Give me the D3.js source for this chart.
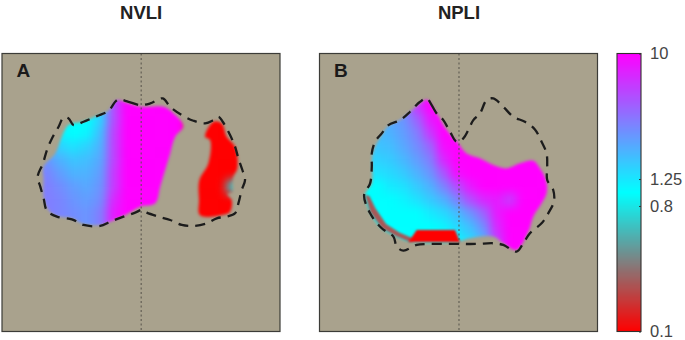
<!DOCTYPE html>
<html>
<head>
<meta charset="utf-8">
<script src="https://cdn.jsdelivr.net/npm/d3@7"></script>
<style>
  html, body { margin: 0; padding: 0; background: #fff; }
  text { font-family: "Liberation Sans", Arial, sans-serif; }
</style>
</head>
<body>
<svg id="chart" width="685" height="340"></svg>
<script>
// All positions below are in map units: 835 units across each square panel
const titles = ['NVLI', 'NPLI'];
const letters = ['A', 'B'];
const colorTicks = [10, 1.25, 0.8, 0.1];

// Panel A ratio field
const colsA = [100, 140, 180, 220, 260, 300, 340, 380, 420, 460, 500, 540, 580, 620, 660, 700, 740];
const rowsA = [160, 200, 240, 280, 320, 360, 400, 440, 480, 520, 560];
const valuesA = [
  [3, 2, 1.2, 1, 1, 1.5, 5, 10, 10, 10, 10, 10, 0.1, 0.1, 0.1, 0.1, 0.1],
  [3, 2, 1.2, 1, 1, 1.5, 5, 10, 10, 10, 10, 10, 0.1, 0.1, 0.1, 0.1, 0.1],
  [3, 2, 1.2, 1, 1, 1.5, 5, 10, 10, 10, 10, 10, 0.1, 0.1, 0.1, 0.1, 0.1],
  [2.5, 1.8, 1.1, 1, 1.1, 1.8, 5.5, 10, 10, 10, 10, 10, 0.1, 0.1, 0.1, 0.1, 0.1],
  [2.5, 2, 1.5, 1.3, 1.5, 2, 5.5, 10, 10, 10, 10, 10, 0.1, 0.1, 0.1, 0.1, 0.1],
  [3, 2.6, 2, 1.7, 1.8, 2.2, 5.5, 10, 10, 10, 10, 10, 0.1, 0.1, 0.1, 0.1, 0.1],
  [3.2, 3, 2.4, 2, 2, 2.4, 6, 10, 10, 10, 10, 10, 0.1, 0.1, 0.1, 0.1, 0.1],
  [3.2, 3.2, 2.8, 2.4, 2.2, 2.6, 6, 10, 10, 10, 10, 10, 0.1, 0.1, 0.1, 0.7, 0.7],
  [3.2, 3.2, 3, 2.6, 2.4, 2.8, 7, 10, 10, 10, 10, 10, 0.1, 0.1, 0.1, 0.1, 0.1],
  [3.2, 3.2, 3, 2.8, 2.6, 3.2, 8, 10, 10, 10, 10, 10, 0.1, 0.1, 0.1, 0.1, 0.1],
  [3.2, 3.2, 3, 2.8, 2.6, 3.2, 8, 10, 10, 10, 10, 10, 0.1, 0.1, 0.1, 0.1, 0.1]
];

// Panel B ratio field
const colsB = [160, 200, 240, 280, 320, 360, 400, 440, 480, 520, 560, 600, 640, 680, 720];
const rowsB = [160, 200, 240, 280, 320, 360, 400, 440, 480, 520, 560, 600, 640];
const valuesB = [
  [2, 2, 2.5, 3, 6, 10, 10, 10, 10, 10, 10, 10, 10, 10, 10],
  [2, 2, 2.5, 3, 6, 10, 10, 10, 10, 10, 10, 10, 10, 10, 10],
  [2, 2, 2.2, 2.6, 4, 8, 10, 10, 10, 10, 10, 10, 10, 10, 10],
  [1.8, 1.8, 2, 2.4, 3.2, 6, 10, 10, 10, 10, 10, 10, 10, 10, 10],
  [1.6, 1.7, 1.8, 2.2, 2.8, 4, 9, 10, 10, 10, 10, 10, 10, 10, 10],
  [1.4, 1.5, 1.6, 1.9, 2.4, 3.2, 7, 10, 10, 10, 10, 10, 10, 10, 10],
  [1.2, 1.3, 1.4, 1.6, 2, 2.6, 4.5, 9, 10, 10, 10, 10, 10, 10, 10],
  [1, 1, 1.2, 1.3, 1.6, 2, 3, 5, 8, 10, 10, 10, 10, 10, 10],
  [1, 1, 1, 1.1, 1.3, 1.6, 2, 3, 5, 7, 8, 6, 10, 10, 10],
  [1, 1, 1, 1, 1, 1.2, 1.4, 1.8, 2.6, 4, 8, 10, 10, 10, 10],
  [1, 1, 1, 1, 1, 1, 1.1, 1.4, 1.8, 2.8, 7, 10, 10, 10, 10],
  [1, 1, 1, 1, 1, 1, 1, 1.1, 1.4, 2, 6, 10, 10, 10, 10],
  [1, 1, 1, 1, 1, 1, 1, 1.1, 1.4, 2, 6, 10, 10, 10, 10]
];

// Dashed tissue outlines
const outlineA = [[355,178],[385,185],[420,195],[450,190],[488,175],[510,200],[545,225],[580,242],[615,250],[640,240],[655,230],[668,245],[690,285],[705,320],[715,355],[727,390],[735,420],[725,450],[715,490],[705,520],[680,530],[650,535],[620,550],[580,558],[545,555],[510,540],[475,530],[440,518],[425,510],[405,518],[370,530],[330,545],[300,558],[250,555],[215,538],[170,530],[140,512],[130,475],[120,440],[112,410],[128,370],[140,330],[155,295],[175,260],[190,232],[205,235],[220,255],[250,245],[290,228],[325,212],[345,185]];
const outlineB = [[350,175],[365,195],[380,220],[400,240],[420,275],[440,305],[460,295],[475,270],[490,240],[510,220],[530,180],[550,175],[580,200],[610,230],[645,245],[675,268],[695,305],[710,340],[712,380],[712,420],[730,450],[732,485],[715,520],[695,550],[660,580],[640,610],[620,635],[580,615],[550,610],[500,612],[440,612],[350,612],[320,615],[280,632],[260,620],[250,590],[215,565],[180,520],[162,465],[180,430],[185,380],[185,340],[195,305],[215,280],[235,255],[270,240],[300,215],[330,185]];

// Areas of the field that hold data
const coveredA = [
  [[350,180],[385,190],[420,200],[490,200],[520,220],[550,258],[525,290],[510,340],[495,390],[480,440],[465,490],[420,500],[375,525],[330,545],[300,555],[250,552],[215,535],[170,528],[145,510],[130,470],[130,420],[130,380],[165,340],[185,290],[205,255],[250,245],[290,228],[325,212]],
  [[640,245],[665,250],[680,290],[705,320],[712,385],[700,410],[697,430],[697,455],[682,462],[695,480],[690,515],[670,524],[600,526],[597,480],[598,420],[625,370],[630,300],[615,290]]
];
const coveredB = [
  [[350,178],[380,220],[410,270],[445,310],[470,340],[510,355],[550,375],[590,385],[630,370],[670,362],[690,385],[708,420],[710,460],[695,490],[670,530],[655,575],[620,630],[580,610],[550,590],[480,595],[440,605],[300,605],[260,590],[215,565],[180,515],[165,465],[185,430],[188,340],[215,285],[235,258],[270,240],[300,215],[330,190]]
];

// Low-ratio patches along the lower edge of panel B
const lowPatchB = [[320,570],[435,570],[450,606],[295,606]];
const lowStripB = [[165,465],[180,515],[215,565],[260,590],[300,606],[315,598],[268,578],[228,552],[196,505],[178,468]];
const patchesB = [
  {points: lowStripB, value: 0.22},
  {points: lowPatchB, value: 0.1}
];

const panels = [
  {cols: colsA, rows: rowsA, values: valuesA, outline: outlineA, covered: coveredA, patches: [], left: 2, origin: 5, mid: 423},
  {cols: colsB, rows: rowsB, values: valuesB, outline: outlineB, covered: coveredB, patches: patchesB, left: 319.5, origin: 28, mid: 447}
];

const panelSize = 278;
const panelTop = 53.5;

const svg = d3.select('#chart');
const defs = svg.append('defs');

// Red to cyan to magenta on a log axis, same as the color bar
const colorScale = d3.scaleLog()
  .domain([0.1, 1, 10])
  .range(['#ff0000', '#00ffff', '#ff00ff'])
  .interpolate(d3.interpolateRgb);

function addBlur(id, dev) {
  defs.append('filter')
    .attr('id', id)
    .attr('filterUnits', 'userSpaceOnUse')
    .attr('x', 0).attr('y', 0).attr('width', 685).attr('height', 340)
    .attr('color-interpolation-filters', 'sRGB')
    .append('feGaussianBlur')
    .attr('stdDeviation', dev);
}
addBlur('field-blur', 5);
addBlur('edge-blur', 1.6);
addBlur('patch-blur', 1);
addBlur('soft', 0.45);

panels.forEach((p, i) => {
  const xScale = d3.scaleLinear().domain([p.origin, p.origin + 835]).range([p.left, p.left + panelSize]);
  const yScale = d3.scaleLinear().domain([40, 875]).range([panelTop, panelTop + panelSize]);
  const path = d3.line().x(d => xScale(d[0])).y(d => yScale(d[1])).curve(d3.curveCatmullRomClosed);
  const straightPath = d3.line().x(d => xScale(d[0])).y(d => yScale(d[1]));

  svg.append('rect')
    .attr('x', p.left).attr('y', panelTop)
    .attr('width', panelSize).attr('height', panelSize)
    .attr('fill', '#a9a28d');

  // Blurred edge of the covered area fades the field into the background
  const mask = defs.append('mask')
    .attr('id', `cover-${i}`)
    .attr('maskUnits', 'userSpaceOnUse')
    .attr('x', 0).attr('y', 0).attr('width', 685).attr('height', 340);
  mask.append('g')
    .attr('filter', 'url(#edge-blur)')
    .selectAll('path')
    .data(p.covered)
    .join('path')
    .attr('d', path)
    .attr('fill', '#fff');

  const cells = p.values.flatMap((row, r) => row.map((v, c) => ({col: p.cols[c], row: p.rows[r], value: v})));
  const step = p.cols[1] - p.cols[0];

  const heat = svg.append('g').attr('mask', `url(#cover-${i})`);
  heat.append('g')
    .attr('filter', 'url(#field-blur)')
    .selectAll('rect')
    .data(cells)
    .join('rect')
    .attr('x', d => xScale(d.col - step / 2))
    .attr('y', d => yScale(d.row - step / 2))
    .attr('width', xScale(step) - xScale(0) + 0.5)
    .attr('height', yScale(step) - yScale(0) + 0.5)
    .attr('fill', d => colorScale(d.value));

  svg.append('g')
    .selectAll('path')
    .data(p.patches)
    .join('path')
    .attr('d', d => straightPath(d.points) + 'Z')
    .attr('fill', d => colorScale(d.value))
    .attr('filter', 'url(#patch-blur)');

  const lines = svg.append('g').attr('filter', 'url(#soft)');

  lines.append('line')
    .attr('x1', xScale(p.mid)).attr('x2', xScale(p.mid))
    .attr('y1', panelTop).attr('y2', panelTop + panelSize)
    .attr('stroke', '#55524a')
    .attr('stroke-width', 1)
    .attr('stroke-dasharray', '2,2.5');

  lines.append('path')
    .attr('d', path(p.outline))
    .attr('fill', 'none')
    .attr('stroke', '#1c1c1c')
    .attr('stroke-width', 2.3)
    .attr('stroke-dasharray', '10,7');

  lines.append('rect')
    .attr('x', p.left).attr('y', panelTop)
    .attr('width', panelSize).attr('height', panelSize)
    .attr('fill', 'none')
    .attr('stroke', '#3c3c38')
    .attr('stroke-width', 1.2);

  svg.append('text')
    .attr('x', p.left + 14.5).attr('y', panelTop + 23)
    .attr('font-size', 19)
    .attr('font-weight', 'bold')
    .attr('fill', '#1a1a1a')
    .text(letters[i]);

  svg.append('text')
    .attr('x', xScale(p.mid)).attr('y', 19)
    .attr('text-anchor', 'middle')
    .attr('font-size', 18.5)
    .attr('font-weight', 'bold')
    .attr('fill', '#222')
    .text(titles[i]);
});

// Color bar
const barLeft = 617;
const barWidth = 24;
const barScale = d3.scaleLog().domain([0.1, 10]).range([panelTop + panelSize, panelTop]);
const barLevels = d3.range(barScale.range()[1], barScale.range()[0], 1);

svg.append('g')
  .selectAll('rect')
  .data(barLevels)
  .join('rect')
  .attr('x', barLeft)
  .attr('y', d => d)
  .attr('width', barWidth)
  .attr('height', 1.5)
  .attr('fill', d => colorScale(barScale.invert(d + 0.5)));

svg.append('rect')
  .attr('x', barLeft).attr('y', panelTop)
  .attr('width', barWidth).attr('height', panelSize)
  .attr('fill', 'none')
  .attr('stroke', '#33302e')
  .attr('stroke-width', 1.1);

const barAxis = d3.axisRight(barScale)
  .tickValues(colorTicks)
  .tickFormat(d => String(d))
  .tickSize(-2)
  .tickPadding(9);

const barAxisG = svg.append('g')
  .attr('transform', `translate(${barLeft + barWidth},0)`)
  .call(barAxis);
barAxisG.select('.domain').remove();
barAxisG.selectAll('line').attr('stroke', '#333');
barAxisG.selectAll('text')
  .attr('font-size', 16.5)
  .attr('font-family', '"Liberation Sans", Arial, sans-serif')
  .attr('fill', '#444');
</script>
</body>
</html>
